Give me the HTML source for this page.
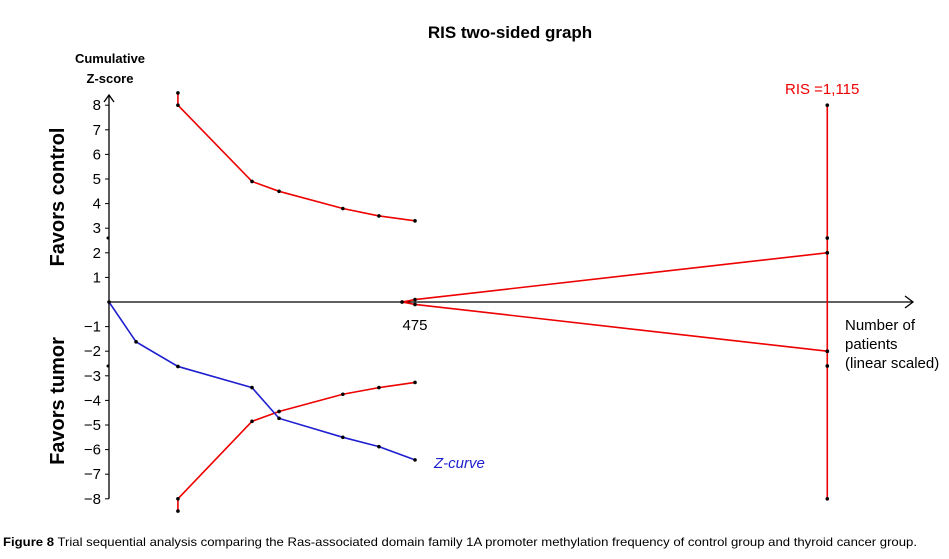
<!DOCTYPE html>
<html><head><meta charset="utf-8"><style>
body{margin:0;background:#fff;width:949px;height:554px;overflow:hidden;font-family:"Liberation Sans",Arial,sans-serif}
</style></head><body>
<svg id="chart" width="949" height="554" xmlns="http://www.w3.org/2000/svg" font-family="Liberation Sans, Arial, sans-serif">
<text x="510" y="38" text-anchor="middle" font-size="17" font-weight="bold">RIS two-sided graph</text>
<text x="110" y="63" text-anchor="middle" font-size="13" font-weight="bold">Cumulative</text>
<text x="110" y="83" text-anchor="middle" font-size="13" font-weight="bold">Z-score</text>
<text transform="translate(64,197) rotate(-90)" text-anchor="middle" font-size="20" font-weight="bold">Favors control</text>
<text transform="translate(64,401) rotate(-90)" text-anchor="middle" font-size="20" font-weight="bold">Favors tumor</text>
<g id="axes"></g>
<g id="marks"></g>
<text font-size="15"><tspan x="845" y="330">Number of</tspan><tspan x="845" y="349">patients</tspan><tspan x="845" y="368">(linear scaled)</tspan></text>
<text x="785" y="94" font-size="15" fill="#e00">RIS =1,115</text>
<text x="434" y="468" font-size="15" fill="#2020d0" font-style="italic">Z-curve</text>
<text x="3" y="546" font-size="12" textLength="914" lengthAdjust="spacingAndGlyphs"><tspan font-weight="bold">Figure 8</tspan> Trial sequential analysis comparing the Ras-associated domain family 1A promoter methylation frequency of control group and thyroid cancer group.</text>
</svg>
<script>
const patients=[0,42,107,222,264,363,419,475];
const zCurve=[0,-1.62,-2.62,-3.48,-4.73,-5.5,-5.88,-6.42];
const boundPatients=[107,222,264,363,419,475];
const upperBound=[8,4.9,4.5,3.8,3.5,3.3];
const lowerBound=[-8,-4.85,-4.45,-3.75,-3.48,-3.27];
const futilityPatients=[455,475,1115];
const futilityUpper=[0,0.1,2];
const futilityLower=[0,-0.1,-2];
const ris=1115;
const risDots=[8,2.6,2,-2,-2.6,-8];
const yTicks=[8,7,6,5,4,3,2,1,-1,-2,-3,-4,-5,-6,-7,-8];
const xTickLabels=[475];

const X=p=>109+p*0.6442;
const Y=z=>302-z*24.6;
const NS="http://www.w3.org/2000/svg";
function mk(tag,attrs,parent){const e=document.createElementNS(NS,tag);for(const k in attrs)e.setAttribute(k,attrs[k]);parent.appendChild(e);return e;}
const ax=document.getElementById('axes'),mg=document.getElementById('marks');
let e=mk('line',{x1:109,y1:Y(-8),x2:109,y2:96,stroke:'#000','stroke-width':1.3},ax);

e=mk('path',{d:'M104,102 L109,95 L114,102',fill:'none',stroke:'#000','stroke-width':1.3},ax);

e=mk('line',{x1:109,y1:Y(0),x2:912,y2:Y(0),stroke:'#000','stroke-width':1.3},ax);

e=mk('path',{d:`M905,${Y(0)-6} L913,${Y(0)} L905,${Y(0)+6}`,fill:'none',stroke:'#000','stroke-width':1.3},ax);

yTicks.forEach(t=>{
  e=mk('line',{x1:105,y1:Y(t),x2:109,y2:Y(t),stroke:'#000'},ax);
  
  e=mk('text',{x:101,y:Y(t)+5,'text-anchor':'end','font-size':15},ax);
  e.textContent=t<0?'\u2212'+(-t):String(t);
  
});
[2.6,-2.6].forEach(t=>{e=mk('circle',{cx:108,cy:Y(t),r:1.5,fill:'#000'},ax);
  });
xTickLabels.forEach(v=>{e=mk('text',{x:X(v),y:Y(0)+28,'text-anchor':'middle','font-size':15},ax);e.textContent=v;
  });
function series(xs,ys,color,name){
  const pts=xs.map((p,i)=>X(p)+','+Y(ys[i])).join(' ');
  let l=mk('polyline',{points:pts,fill:'none',stroke:color,'stroke-width':1.6},mg);
  
  xs.forEach((p,i)=>{let c=mk('circle',{cx:X(p),cy:Y(ys[i]),r:1.8,fill:'#000'},mg);
    });
}
[[8,8.5],[-8,-8.5]].forEach(([a,b])=>{e=mk('line',{x1:X(boundPatients[0]),y1:Y(a),x2:X(boundPatients[0]),y2:Y(b),stroke:'#e00','stroke-width':1.6},mg);
 
 e=mk('circle',{cx:X(boundPatients[0]),cy:Y(b),r:1.8,fill:'#000'},mg);
 });
series(boundPatients,upperBound,'#e00','upper-boundary');
series(boundPatients,lowerBound,'#e00','lower-boundary');
series(futilityPatients,futilityUpper,'#e00','upper-futility');
series(futilityPatients,futilityLower,'#e00','lower-futility');
e=mk('line',{x1:X(ris),y1:Y(8),x2:X(ris),y2:Y(-8),stroke:'#e00','stroke-width':1.6},mg);

risDots.forEach(z=>{e=mk('circle',{cx:X(ris),cy:Y(z),r:1.8,fill:'#000'},mg);
  });
series(patients,zCurve,'#2020d0','z-curve');
</script>
</body></html>
